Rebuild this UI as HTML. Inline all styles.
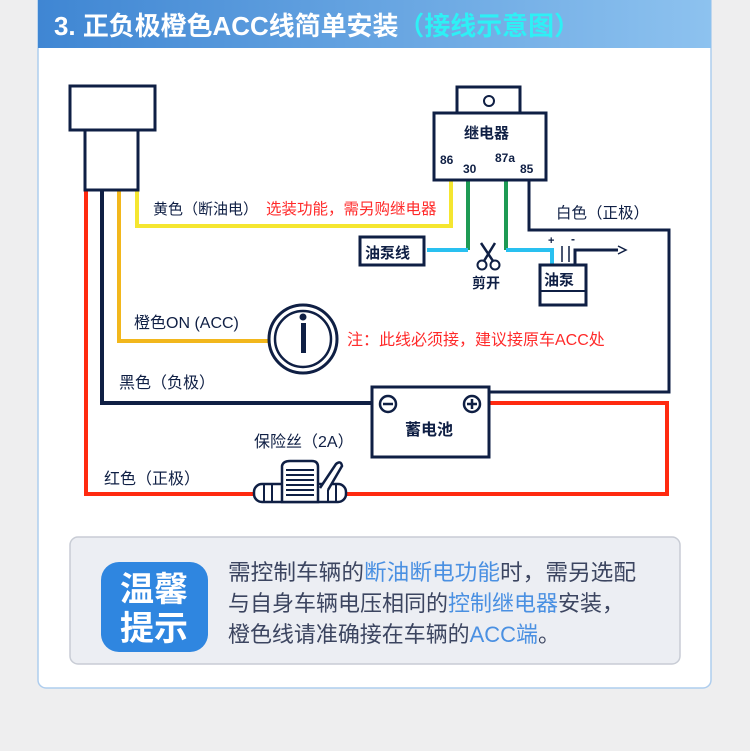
<!DOCTYPE html>
<html><head><meta charset="utf-8"><style>
body{margin:0;background:#eeeeef;width:750px;height:746px;overflow:hidden;font-family:"Liberation Sans","Noto Sans CJK SC",sans-serif}
</style></head><body>
<svg width="750" height="746" viewBox="0 0 750 746" xmlns="http://www.w3.org/2000/svg" font-family="Liberation Sans, Noto Sans CJK SC, sans-serif">
<defs>
<linearGradient id="hg" x1="0" x2="1" y1="0" y2="0"><stop offset="0" stop-color="#3f86d3"/><stop offset="1" stop-color="#8dc2ef"/></linearGradient>
</defs>
<rect x="38" y="-10" width="673" height="698" rx="8" fill="#fff" stroke="#aecdee" stroke-width="1.5"/>
<path d="M38 0 H711 V48 H38 Z" fill="url(#hg)"/>
<text x="54" y="35" font-size="26" font-weight="bold" fill="#fff" textLength="526" lengthAdjust="spacingAndGlyphs">3. 正负极橙色ACC线简单安装<tspan fill="#2ef0f5">（接线示意图）</tspan></text>

<g fill="none" stroke-linejoin="miter">
<path d="M86 190 V494 H667 V403 H489" stroke="#ff2a10" stroke-width="4"/>
<path d="M102 190 V403 H372" stroke="#0f1f44" stroke-width="4"/>
<path d="M119 190 V341 H270" stroke="#f2b71c" stroke-width="4"/>
<path d="M137 190 V226 H451 V180" stroke="#f5e630" stroke-width="4"/>
<path d="M468 180 V250 M506 180 V250" stroke="#1e9a54" stroke-width="4"/>
<path d="M427 250 H468 M506 250 H552 V268" stroke="#29c0f0" stroke-width="4"/>
<path d="M418 250 H427" stroke="#29c0f0" stroke-width="4" stroke-dasharray="1.5 1.5"/>
<path d="M529 180 V230 H669 V392 H489" stroke="#0f1f44" stroke-width="3"/>
<path d="M575 265 V250 H618" stroke="#0f1f44" stroke-width="3"/>
<path d="M562 246 V262 M569 246 V262" stroke="#0f1f44" stroke-width="1.5"/>
<rect x="70" y="86" width="85" height="44" fill="#fff" stroke="#0f1f44" stroke-width="3"/>
<rect x="85" y="130" width="53" height="60" fill="#fff" stroke="#0f1f44" stroke-width="3"/>
<rect x="457" y="87" width="63" height="26" fill="#fff" stroke="#0f1f44" stroke-width="3"/>
<circle cx="489" cy="101" r="5" stroke="#0f1f44" stroke-width="2"/>
<rect x="434" y="113" width="112" height="67" fill="#fff" stroke="#0f1f44" stroke-width="3"/>
<rect x="360" y="237" width="64" height="28" fill="#fff" stroke="#0f1f44" stroke-width="3"/>
<rect x="540" y="265" width="46" height="40" fill="#fff" stroke="#0f1f44" stroke-width="3"/>
<path d="M540 291 H586" stroke="#0f1f44" stroke-width="2"/>
<circle cx="303" cy="339" r="34" fill="#fff" stroke="#0f1f44" stroke-width="3"/>
<circle cx="303" cy="339" r="28" stroke="#0f1f44" stroke-width="2.5"/>
<rect x="372" y="387" width="117" height="70" fill="#fff" stroke="#0f1f44" stroke-width="3"/>
<circle cx="388" cy="404" r="8" stroke="#0f1f44" stroke-width="2.5"/>
<path d="M383 404 H393" stroke="#0f1f44" stroke-width="2.5"/>
<circle cx="472" cy="404" r="8" stroke="#0f1f44" stroke-width="2.5"/>
<path d="M467 404 H477 M472 399 V409" stroke="#0f1f44" stroke-width="2.5"/>
<circle cx="482" cy="265" r="4.5" stroke="#0f1f44" stroke-width="2"/>
<circle cx="495" cy="265" r="4.5" stroke="#0f1f44" stroke-width="2"/>
<path d="M484 261 L495 243 M493 261 L481 243" stroke="#0f1f44" stroke-width="2.5"/>
<rect x="254" y="484" width="92" height="18" rx="8" fill="#fff" stroke="#0f1f44" stroke-width="2.5"/>
<path d="M264 485 V501 M272 485 V501 M328 485 V501 M336 485 V501" stroke="#0f1f44" stroke-width="2"/>
<path d="M282 466 Q283 461 290 461 H312 Q318 461 318 467 V502 H282 Z" fill="#fff" stroke="#0f1f44" stroke-width="2.5"/>
<path d="M286 470 H314 M286 475 H314 M286 480 H314 M286 485 H314 M286 490 H314 M286 495 H314" stroke="#0f1f44" stroke-width="2"/>
<path d="M320 488 L336 464 Q341 460 342 466 L328 490" fill="#fff" stroke="#0f1f44" stroke-width="2.5"/>
</g>
<rect x="301" y="323" width="5" height="30" fill="#0f1f44"/>
<circle cx="303" cy="317" r="3.5" fill="#0f1f44"/>
<path d="M618 246 L626 250 L618 254" fill="none" stroke="#0f1f44" stroke-width="1.5"/>

<g fill="#0f1f44" font-weight="bold">
<text x="464" y="138" font-size="15">继电器</text>
<text x="440" y="164" font-size="12">86</text>
<text x="463" y="173" font-size="12">30</text>
<text x="495" y="162" font-size="12">87a</text>
<text x="520" y="173" font-size="12">85</text>
<text x="365" y="258" font-size="15">油泵线</text>
<text x="544" y="285" font-size="15">油泵</text>
<text x="472" y="288" font-size="14">剪开</text>
<text x="548" y="244" font-size="11">+</text>
<text x="571" y="243" font-size="12">-</text>
<text x="153" y="214" font-size="15" font-weight="normal">黄色（断油电）</text>
<text x="556" y="218" font-size="15.5" font-weight="normal">白色（正极）</text>
<text x="134" y="328" font-size="16" font-weight="normal">橙色ON (ACC)</text>
<text x="119" y="388" font-size="16" font-weight="normal">黑色（负极）</text>
<text x="254" y="447" font-size="16" font-weight="normal">保险丝（2A）</text>
<text x="104" y="484" font-size="16" font-weight="normal">红色（正极）</text>
<text x="405" y="435" font-size="16">蓄电池</text>
</g>
<text x="266" y="214" font-size="15.5" fill="#ff2a2a">选装功能，需另购继电器</text>
<text x="347" y="345" font-size="16" fill="#ff2a2a">注：此线必须接，建议接原车ACC处</text>

<rect x="70" y="537" width="610" height="127" rx="8" fill="#eceef3" stroke="#c8ccd5" stroke-width="1.5"/>
<rect x="101" y="562" width="107" height="90" rx="18" fill="#2f86e0"/>
<text x="154" y="601" font-size="34" font-weight="bold" fill="#fff" text-anchor="middle">温馨</text>
<text x="154" y="640" font-size="34" font-weight="bold" fill="#fff" text-anchor="middle">提示</text>
<g font-size="22" fill="#3c4560">
<text x="228" y="580" textLength="408" lengthAdjust="spacingAndGlyphs">需控制车辆的<tspan fill="#4a90e2">断油断电功能</tspan>时，需另选配</text>
<text x="228" y="611" textLength="396" lengthAdjust="spacingAndGlyphs">与自身车辆电压相同的<tspan fill="#4a90e2">控制继电器</tspan>安装，</text>
<text x="228" y="642" textLength="332" lengthAdjust="spacingAndGlyphs">橙色线请准确接在车辆的<tspan fill="#4a90e2">ACC端</tspan>。</text>
</g>
</svg>
</body></html>
